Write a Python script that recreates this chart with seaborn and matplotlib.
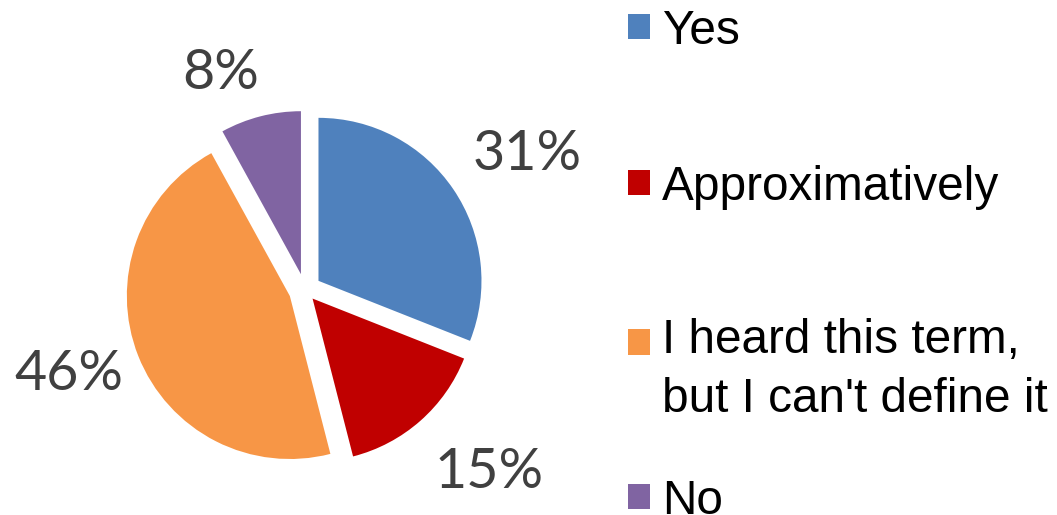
import matplotlib.pyplot as plt
import seaborn as sns
from matplotlib.patches import Patch, Rectangle
from matplotlib.legend_handler import HandlerPatch

# survey answers, clockwise from 12 o'clock
answers = ['Yes', 'Approximatively', "I heard this term,\nbut I can't define it", 'No']
shares = [31, 15, 46, 8]
colors = ['#4F81BD', '#C00000', '#F79646', '#8064A2']

sns.set_theme(style='white')
palette = sns.color_palette(colors)

fig = plt.figure(figsize=(10.57, 5.15), dpi=100)
ax = fig.add_axes([0, 0, 610 / 1057, 450 / 515])

wedges, _, pct_texts = ax.pie(
    shares,
    colors=palette,
    startangle=90,
    counterclock=False,
    explode=[0.1, 0.07, 0.1, 0.1],
    autopct=lambda p: f'{p:.0f}%',
    pctdistance=1.47,
    wedgeprops=dict(linewidth=0),
    textprops=dict(fontsize=40, color='#404040', family='Lato'),
)
ax.set_xlim(-305 / 163, 305 / 163)
ax.set_ylim(-225 / 163, 225 / 163)
ax.axis('off')

# Excel-style label spots (in pie radii), not on one common circle
label_spots = [(1.36, 0.83), (1.13, -1.12), (-1.45, -0.52), (-0.52, 1.33)]
for txt, spot in zip(pct_texts, label_spots):
    txt.set_position(spot)


def raised_square(lift):
    # legend square aligned with the first line of a wrapped label
    def make(legend, orig_handle, xdescent, ydescent, width, height, fontsize):
        return Rectangle((-xdescent, -ydescent + lift), width, height)
    return make


# legend rows sit at uneven heights, so place each one on its own
legend_rows = [31, 187, 370, 501]
for answer, color, row in zip(answers, palette, legend_rows):
    n_lines = answer.count('\n') + 1
    handler = HandlerPatch(patch_func=raised_square(20.5 * (n_lines - 1)))
    leg = fig.legend(
        handles=[Patch(facecolor=color, linewidth=0)],
        labels=[answer],
        loc='center left',
        bbox_to_anchor=(628 / 1057, 1 - row / 515),
        frameon=False,
        prop=dict(family='Liberation Sans', size=34.4),
        handlelength=0.46,
        handleheight=0.43,
        handletextpad=0.25,
        borderpad=0,
        borderaxespad=0,
        labelcolor='black',
        handler_map={Patch: handler},
    )
    for t in leg.get_texts():
        t.set_linespacing(1.38)

fig.savefig('out.png', dpi=100)
